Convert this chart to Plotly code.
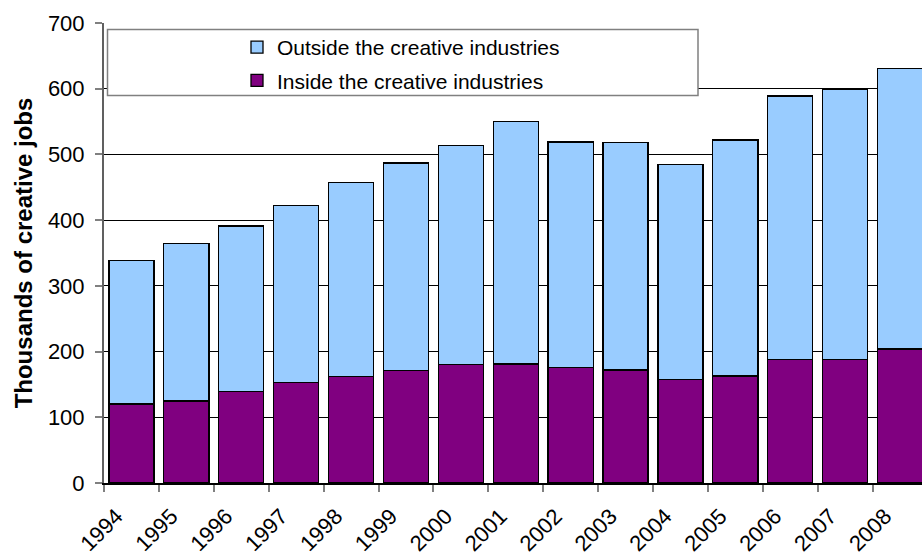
import plotly.graph_objects as go

# Creative employment, thousands of jobs
years = ["1994", "1995", "1996", "1997", "1998", "1999", "2000", "2001",
         "2002", "2003", "2004", "2005", "2006", "2007", "2008"]
inside_jobs = [120, 125, 139, 153, 162, 171, 180, 181, 176, 172, 157, 163, 188, 188, 204]
total_jobs = [339, 364, 391, 422, 457, 487, 514, 550, 519, 518, 485, 522, 589, 599, 631]
outside_jobs = [t - i for t, i in zip(total_jobs, inside_jobs)]

FONT = "Liberation Sans, Arial, sans-serif"
W, H = 922, 556
L, R, T, B = 104, 0, 23, 73

fig = go.Figure()
fig.add_trace(go.Bar(
    x=years, y=inside_jobs, name="Inside the creative industries",
    marker=dict(color="#800080", line=dict(color="#000000", width=1.3)),
    legendgroup="in", legendrank=2,
))
fig.add_trace(go.Bar(
    x=years, y=outside_jobs, name="Outside the creative industries",
    marker=dict(color="#99CCFF", line=dict(color="#000000", width=1.3)),
    legendgroup="out", legendrank=1,
))

# legend frame
fig.add_shape(type="rect", xref="paper", yref="paper",
              x0=(107.5 - L) / (W - L - R), x1=(698 - L) / (W - L - R),
              y0=(H - B - 95.5) / (H - T - B), y1=(H - B - 29.5) / (H - T - B),
              line=dict(color="#808080", width=1.5), fillcolor="white", layer="above")

n = len(years)
fig.update_layout(
    width=W, height=H,
    margin=dict(l=L, r=R, t=T, b=B, pad=0, autoexpand=False),
    paper_bgcolor="white", plot_bgcolor="white",
    barmode="stack", bargap=0.18,
    font=dict(family=FONT, color="#000000"),
    showlegend=True,
    legend=dict(
        x=(237 - L) / (W - L - R), y=(H - B - 27) / (H - T - B),
        xanchor="left", yanchor="top",
        bgcolor="rgba(0,0,0,0)", borderwidth=0,
        font=dict(size=21, family=FONT, color="#000000"),
        traceorder="grouped", tracegroupgap=3,
    ),
    xaxis=dict(
        type="category", range=[-0.5, n - 0.5 - (927.5 - W) / 54.87],
        automargin=False,
        tickangle=-45, tickson="boundaries",
        ticks="outside", ticklen=7, tickwidth=1.5, tickcolor="#808080",
        tickfont=dict(size=22, family=FONT, color="#000000"),
        ticklabelstandoff=10, ticklabelshift=-15,
        showline=True, linecolor="#000000", linewidth=1.5,
        showgrid=False, zeroline=False,
    ),
    yaxis=dict(
        range=[0, 700], dtick=100, tick0=0,
        automargin=False,
        ticks="outside", ticklen=7, tickwidth=1.5, tickcolor="#808080",
        tickfont=dict(size=22, family=FONT, color="#000000"),
        ticklabelstandoff=6,
        showline=True, linecolor="#606060", linewidth=2,
        showgrid=True, gridcolor="#000000", gridwidth=1,
        zeroline=False,
        title=dict(text="<b>Thousands of creative jobs</b>",
                   font=dict(size=24, family=FONT, color="#000000"),
                   standoff=8),
    ),
)

fig.write_html("out.html")
